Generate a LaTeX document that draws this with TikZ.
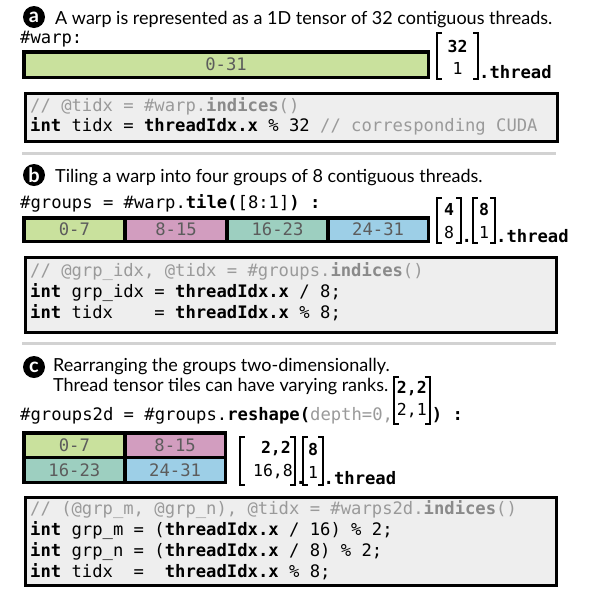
\documentclass[tikz,border=0pt]{standalone}
\usepackage{fontspec}
\setmainfont{Lato}
\setsansfont{Lato}
\setmonofont{DejaVu Sans Mono}
\definecolor{cgreen}{HTML}{C9E19D}
\definecolor{cpink}{HTML}{D29DBF}
\definecolor{cteal}{HTML}{9DCFC0}
\definecolor{cblue}{HTML}{9DCFE7}
\definecolor{barfg}{HTML}{5C5C5C}
\definecolor{cgray}{HTML}{9A9A9A}
\definecolor{cgrayb}{HTML}{8A8A8A}
\definecolor{codebg}{HTML}{EEEEEE}
\definecolor{sepgray}{HTML}{D2D2D2}
\newcommand\bracketsof[1]{%
  \draw[brkline] ([xshift=5pt]#1.north west) -- (#1.north west) -- (#1.south west) -- ([xshift=5pt]#1.south west);
  \draw[brkline] ([xshift=-5pt]#1.north east) -- (#1.north east) -- (#1.south east) -- ([xshift=-5pt]#1.south east);}
\begin{document}
\begin{tikzpicture}[x=1pt,y=-1pt,
  badge/.style={circle, fill=black, text=white, minimum size=22pt, inner sep=0pt, font=\sffamily\bfseries\fontsize{20}{20}\selectfont},
  title/.style={anchor=base west, inner sep=0pt, font=\sffamily\fontsize{18}{20}\selectfont},
  codeline/.style={anchor=base west, inner sep=0pt, font=\ttfamily\fontsize{17.2}{20}\selectfont},
  cell/.style={draw=black, line width=3.5pt, inner sep=0pt, text=barfg, font=\ttfamily\fontsize{17.2}{20}\selectfont},
  codebox/.style={draw=black, line width=3pt, fill=codebg, anchor=north west, inner sep=0pt},
  sep/.style={draw=sepgray, line width=3pt},
  brk/.style={inner sep=0pt},
  brkline/.style={draw=black, line width=2pt},
  num/.style={inner sep=0pt, font=\ttfamily\fontsize{16.5}{18}\selectfont},
  bnum/.style={inner sep=0pt, font=\ttfamily\bfseries\fontsize{16.5}{18}\selectfont},
  dot/.style={anchor=base west, inner sep=0pt, font=\ttfamily\bfseries\fontsize{17.2}{20}\selectfont}]
\useasboundingbox (0,0) rectangle (596,590);
\fill[white] (0,0) rectangle (596,590);

% ---------- (a) ----------
\node[badge] (ba) at (34,17) {a};
\node[title] (ta) at (55,24) {A warp is represented as a 1D tensor of 32 contiguous threads.};
\node[codeline] (wl) at (20,43) {\#warp:};
\node[cell, fill=cgreen, minimum width=404.5pt, minimum height=25.5pt] (wa) at (226,64.5) {0-31};
\node[brk, minimum width=41pt, minimum height=46pt] (ma) at (457.5,56) {};
\node[bnum] (ma1) at (457.5,46) {32};
\node[num] (ma2) at (457.5,68) {1};
\bracketsof{ma}
\node[dot] (tha) at (479,78) {.thread};
\node[codebox, minimum width=532pt, minimum height=48pt] (cba) at (23.5,91.5) {};
\node[codeline] (ca1) at (30,111) {{\color{cgray}// @tidx = \#warp.}{\color{cgrayb}\bfseries indices}{\color{cgray}()}};
\node[codeline] (ca2) at (30,131) {\textbf{int} tidx = \textbf{threadIdx.x} \% 32 {\color{cgray}// corresponding CUDA}};

\coordinate (s1l) at (22,153);
\coordinate (s1r) at (556,153);
\draw[sep] (s1l) -- (s1r);

% ---------- (b) ----------
\node[badge] (bb) at (34,175) {b};
\node[title] (tb) at (55,182) {Tiling a warp into four groups of 8 contiguous threads.};
\node[codeline] (gl) at (20,208) {\#groups = \#warp.\textbf{tile(}[8:1]\textbf{)~:}};
\node[cell, fill=cgreen, minimum width=101.25pt, minimum height=23.5pt] (g1) at (74.375,229.5) {0-7};
\node[cell, fill=cpink,  minimum width=102pt,    minimum height=23.5pt] (g2) at (176,229.5) {8-15};
\node[cell, fill=cteal,  minimum width=101pt,    minimum height=23.5pt] (g3) at (277.5,229.5) {16-23};
\node[cell, fill=cblue,  minimum width=100.25pt, minimum height=23.5pt] (g4) at (378.125,229.5) {24-31};
\node[brk, minimum width=24pt, minimum height=45pt] (mb1) at (449,220.5) {};
\node[bnum] (mb11) at (449,209) {4};
\node[num] (mb12) at (449,232) {8};
\bracketsof{mb1}
\node[dot] (db) at (461.5,242) {.};
\node[brk, minimum width=22pt, minimum height=45pt] (mb2) at (484,220.5) {};
\node[bnum] (mb21) at (484,209) {8};
\node[num] (mb22) at (484,232) {1};
\bracketsof{mb2}
\node[dot] (thb) at (496,242) {.thread};
\node[codebox, minimum width=531pt, minimum height=75pt] (cbb) at (23.5,255.5) {};
\node[codeline] (cb1) at (30,276) {{\color{cgray}// @grp\_idx, @tidx = \#groups.}{\color{cgrayb}\bfseries indices}{\color{cgray}()}};
\node[codeline] (cb2) at (30,297) {\textbf{int} grp\_idx = \textbf{threadIdx.x} / 8;};
\node[codeline] (cb3) at (30,318) {\textbf{int} tidx~~~~= \textbf{threadIdx.x} \% 8;};

\coordinate (s2l) at (22,343);
\coordinate (s2r) at (556,343);
\draw[sep] (s2l) -- (s2r);

% ---------- (c) ----------
\node[badge] (bc) at (34,367) {c};
\node[title] (tc1) at (53,371) {Rearranging the groups two-dimensionally.};
\node[title] (tc2) at (53,391) {Thread tensor tiles can have varying ranks.};
\node[codeline] (rs) at (20,420) {\#groups2d = \#groups.\textbf{reshape(}{\color{cgray}depth=0,}};
\coordinate (mc0y) at (0,400.5);
\node[brk, minimum width=35pt, minimum height=47pt, anchor=west, xshift=1pt] (mc0) at (rs.east |- mc0y) {};
\node[bnum] (mc01) at ([yshift=11.5pt]mc0.center) {2,2};
\node[num] (mc02) at ([yshift=-10.5pt]mc0.center) {2,1};
\bracketsof{mc0}
\node[dot, xshift=2pt] (rp) at (mc0.east |- rs.base) {)~:};
\node[cell, fill=cgreen, minimum width=101.25pt, minimum height=24.75pt] (h1) at (74.375,445.125) {0-7};
\node[cell, fill=cpink,  minimum width=100.25pt, minimum height=24.75pt] (h2) at (175.125,445.125) {8-15};
\node[cell, fill=cteal,  minimum width=101.25pt, minimum height=24.75pt] (h3) at (74.375,469.875) {16-23};
\node[cell, fill=cblue,  minimum width=100.25pt, minimum height=24.75pt] (h4) at (175.125,469.875) {24-31};
\node[brk, minimum width=55pt, minimum height=48pt] (mc1) at (267.5,461) {};
\node[bnum, anchor=east] (mc11) at (291,449) {2,2};
\node[num, anchor=east] (mc12) at (293,472) {16,8};
\bracketsof{mc1}
\node[dot] (dc) at (295.5,484) {.};
\node[brk, minimum width=20pt, minimum height=48pt] (mc2) at (313,461) {};
\node[bnum] (mc21) at (313,449) {8};
\node[num] (mc22) at (313,472) {1};
\bracketsof{mc2}
\node[dot] (thc) at (323.5,484) {.thread};
\node[codebox, minimum width=531pt, minimum height=88pt] (cbc) at (23.5,495.5) {};
\node[codeline] (cc1) at (30,514) {{\color{cgray}// (@grp\_m, @grp\_n), @tidx = \#warps2d.}{\color{cgrayb}\bfseries indices}{\color{cgray}()}};
\node[codeline] (cc2) at (30,535) {\textbf{int} grp\_m = (\textbf{threadIdx.x} / 16) \% 2;};
\node[codeline] (cc3) at (30,556) {\textbf{int} grp\_n = (\textbf{threadIdx.x} / 8) \% 2;};
\node[codeline] (cc4) at (30,577) {\textbf{int} tidx~~=~~\textbf{threadIdx.x} \% 8;};
\end{tikzpicture}
\end{document}
